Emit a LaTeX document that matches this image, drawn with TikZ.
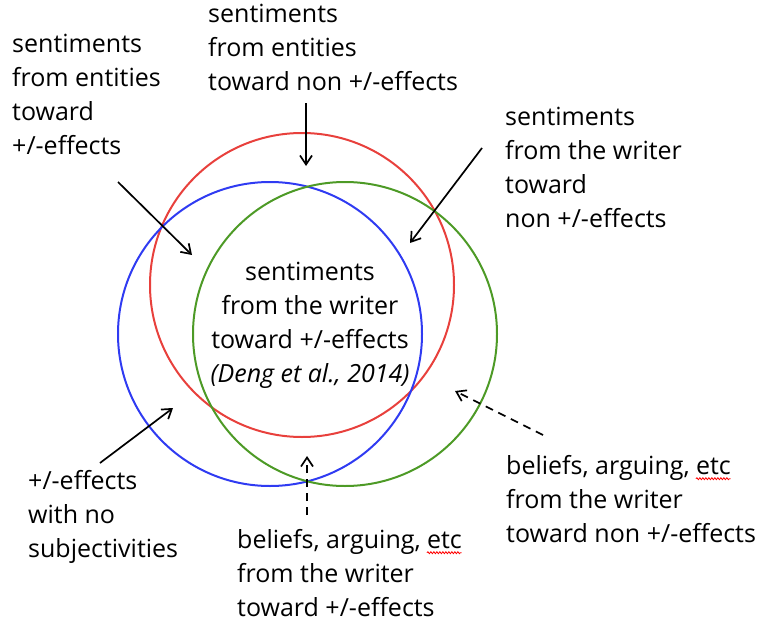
\documentclass[tikz,border=0pt]{standalone}
\usepackage{fontspec}
\setmainfont{Open Sans}
\usetikzlibrary{arrows.meta, positioning, calc, decorations.pathmorphing}
\definecolor{vred}{HTML}{E8403C}
\definecolor{vblue}{HTML}{2F3BF2}
\definecolor{vgreen}{HTML}{4D9A26}
\newlength{\etcstart}
\newlength{\etcwd}
\newcommand{\lblfont}{\fontsize{25}{34}\selectfont}
\tikzset{
  lbl/.style={anchor=north west, inner sep=0pt, align=left, font=\lblfont},
  ring/.style={circle, draw=#1, line width=2pt, minimum size=304pt, inner sep=0pt},
  arr/.style={-{Straight Barb[length=9pt, width=12pt]}, line width=1.7pt},
  darr/.style={arr, dash pattern=on 8pt off 6pt},
  spell/.style={red, line width=0.8pt,
                decorate, decoration={snake, amplitude=1pt, segment length=3pt}},
}

\begin{document}
\settowidth{\etcstart}{\lblfont beliefs, arguing, }%
\settowidth{\etcwd}{\lblfont etc}%
\begin{tikzpicture}[x=1pt, y=-1pt]
  \useasboundingbox (0,0) rectangle (763,626);

  % Ba vòng tròn
  \node[ring=vred] (cred) at (302,285) {};
  \node[ring=vblue] (cblue) at (270,334) {};
  \node[ring=vgreen] (cgreen) at (345,334) {};

  % Nhãn
  \node[lbl] (tl) at (12,28.2) {\strut sentiments\\from entities\\toward\\+/-effects};
  \node[lbl] (tc) at (208,-1.8) {\strut sentiments\\from entities\\toward non +/-effects};
  \node[lbl] (tr) at (505,101.2) {\strut sentiments\\from the writer\\toward\\non +/-effects};
  \node[lbl, anchor=north, align=center] (mid) at (310,256.2)
    {\strut sentiments\\from the writer\\toward +/-effects\\\textit{(Deng et al., 2014)}};
  \node[lbl] (bl) at (28,465.2) {\strut +/-effects\\with no\\subjectivities};
  \node[lbl] (bc) at (237,524.2) {\strut beliefs, arguing, etc\\from the writer\\toward +/-effects};
  \node[lbl] (br) at (506,450.2) {\strut beliefs, arguing, etc\\from the writer\\toward non +/-effects};

  % gạch đỏ dưới "etc"
  \draw[spell] ([shift={(\etcstart,-28.5pt)}]bc.north west) -- ++(\etcwd,0pt);
  \draw[spell] ([shift={(\etcstart,-28.5pt)}]br.north west) -- ++(\etcwd,0pt);

  % Đích của mũi tên
  \coordinate (p1) at (192,255);
  \coordinate (p2) at (306,166);
  \coordinate (p3) at (410,243);
  \coordinate (p4) at (173,408);
  \coordinate (p5) at (307,456);
  \coordinate (p6) at (455,391);

  \draw[arr] ($(tl.north west)+(106,153.8)$) -- (p1);
  \draw[arr] ($(tc.north west)+(98,104.8)$) -- (p2);
  \draw[arr] ($(tr.north west)+(-23,46.8)$) -- (p3);
  \draw[arr] ($(bl.north west)+(72,-2.2)$) -- (p4);
  \draw[darr] ($(bc.north west)+(70,-9.2)$) -- (p5);
  \draw[darr] ($(br.north west)+(37,-15.2)$) -- (p6);
\end{tikzpicture}
\end{document}
